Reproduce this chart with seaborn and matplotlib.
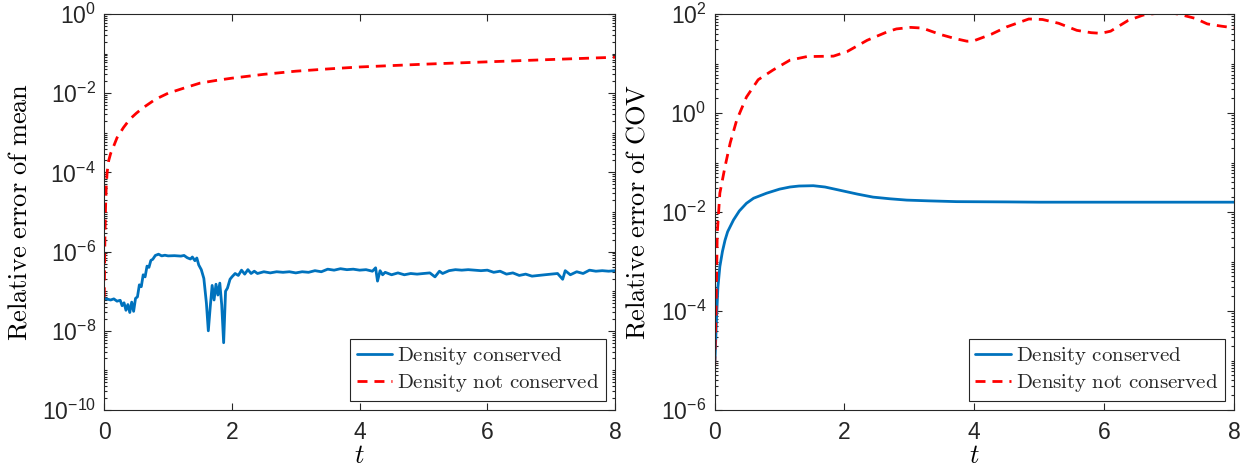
import numpy as np
import pandas as pd
import seaborn as sns
import matplotlib.pyplot as plt
from matplotlib import ticker
from matplotlib.font_manager import FontProperties

# ---- data ----
mean_cons_t = [0.00, 0.05, 0.10, 0.15, 0.20, 0.25, 0.28, 0.31, 0.34, 0.37,
               0.40, 0.43, 0.46, 0.49, 0.52, 0.55, 0.58, 0.61, 0.64, 0.67,
               0.70, 0.73, 0.76, 0.80, 0.85, 0.90, 0.95, 1.00, 1.10, 1.20,
               1.25, 1.30, 1.35, 1.38, 1.42, 1.45, 1.48, 1.52, 1.56, 1.60,
               1.63, 1.66, 1.69, 1.72, 1.75, 1.78, 1.81, 1.84, 1.87, 1.90,
               1.93, 1.97, 2.00, 2.05, 2.10, 2.15, 2.20, 2.25, 2.30, 2.35,
               2.40, 2.50, 2.60, 2.70, 2.80, 2.90, 3.00, 3.10, 3.20, 3.30,
               3.40, 3.50, 3.60, 3.70, 3.80, 3.90, 4.00, 4.10, 4.20, 4.25,
               4.28, 4.32, 4.36, 4.40, 4.50, 4.60, 4.70, 4.80, 4.90, 5.00,
               5.10, 5.18, 5.25, 5.30, 5.40, 5.50, 5.60, 5.70, 5.80, 5.90,
               6.00, 6.10, 6.20, 6.30, 6.40, 6.50, 6.60, 6.70, 6.80, 6.90,
               7.00, 7.10, 7.18, 7.22, 7.30, 7.40, 7.50, 7.60, 7.70, 7.80,
               7.90, 8.00]
mean_cons = [6.5e-8, 6.3e-8, 6.0e-8, 6.4e-8, 5.6e-8, 5.9e-8, 4.3e-8, 5.1e-8, 3.3e-8, 4.6e-8,
             2.9e-8, 5.3e-8, 3.1e-8, 6.6e-8, 7.2e-8, 1.45e-7, 1.3e-7, 2.6e-7, 2.3e-7, 4.3e-7,
             4.0e-7, 6.0e-7, 6.4e-7, 8.0e-7, 8.6e-7, 7.8e-7, 8.1e-7, 7.8e-7, 7.9e-7, 7.7e-7,
             8.0e-7, 7.0e-7, 6.5e-7, 7.3e-7, 5.9e-7, 6.9e-7, 4.6e-7, 3.5e-7, 2.1e-7, 5.0e-8,
             1.0e-8, 4.0e-8, 1.4e-7, 6.0e-8, 1.5e-7, 8.0e-8, 1.6e-7, 4.5e-8, 5.0e-9, 1.0e-7,
             1.2e-7, 2.0e-7, 2.3e-7, 2.8e-7, 2.5e-7, 3.4e-7, 2.7e-7, 3.5e-7, 2.8e-7, 3.2e-7,
             2.8e-7, 3.1e-7, 2.9e-7, 3.1e-7, 3.0e-7, 3.1e-7, 2.9e-7, 3.1e-7, 3.0e-7, 3.3e-7,
             3.1e-7, 3.6e-7, 3.4e-7, 3.7e-7, 3.5e-7, 3.6e-7, 3.4e-7, 3.5e-7, 3.2e-7, 3.9e-7,
             1.8e-7, 3.3e-7, 2.6e-7, 3.0e-7, 2.6e-7, 2.9e-7, 2.6e-7, 2.8e-7, 2.7e-7, 2.8e-7,
             2.9e-7, 2.3e-7, 3.2e-7, 2.8e-7, 3.3e-7, 3.5e-7, 3.4e-7, 3.5e-7, 3.4e-7, 3.3e-7,
             3.4e-7, 3.0e-7, 3.2e-7, 2.7e-7, 2.9e-7, 2.5e-7, 2.7e-7, 2.4e-7, 2.5e-7, 2.6e-7,
             2.7e-7, 2.8e-7, 2.0e-7, 3.3e-7, 2.6e-7, 3.1e-7, 2.8e-7, 3.4e-7, 3.2e-7, 3.3e-7,
             3.2e-7, 3.3e-7]

mean_noncons_t = [0.00, 0.01, 0.02, 0.03, 0.045, 0.07, 0.10, 0.15, 0.20, 0.30, 0.40, 0.50,
                  0.60, 0.80, 1.00, 1.25, 1.50, 1.75, 2.00, 2.50, 3.00, 3.50, 4.00,
                  5.00, 6.00, 7.00, 8.00]
mean_noncons = [7e-8, 2e-6, 1.2e-5, 4e-5, 1e-4, 2e-4, 3e-4, 4.7e-4, 7.5e-4, 1.35e-3, 2.2e-3, 3.1e-3,
                4.2e-3, 7e-3, 1.0e-2, 1.35e-2, 1.8e-2, 2.1e-2, 2.4e-2, 3.0e-2, 3.6e-2, 4.1e-2, 4.6e-2,
                5.4e-2, 6.2e-2, 7.1e-2, 8.1e-2]

cov_cons_t = [0.00, 0.005, 0.03, 0.05, 0.08, 0.12, 0.16, 0.20, 0.29, 0.38, 0.49, 0.60,
              0.80, 1.00, 1.16, 1.30, 1.52, 1.70, 1.93, 2.20, 2.44, 2.70, 2.96, 3.30,
              3.73, 4.50, 5.00, 6.00, 7.00, 8.00]
cov_cons = [9e-6, 1e-5, 7.8e-5, 3e-4, 7.9e-4, 1.6e-3, 2.7e-3, 4e-3, 6.9e-3, 1.05e-2, 1.5e-2, 1.9e-2,
            2.4e-2, 2.9e-2, 3.2e-2, 3.35e-2, 3.4e-2, 3.2e-2, 2.75e-2, 2.3e-2, 2.0e-2, 1.85e-2, 1.74e-2, 1.68e-2,
            1.62e-2, 1.6e-2, 1.58e-2, 1.58e-2, 1.58e-2, 1.58e-2]

cov_noncons_t = [0.00, 0.02, 0.04, 0.08, 0.16, 0.24, 0.34, 0.49, 0.67, 0.90, 1.16, 1.42,
                 1.83, 2.04, 2.35, 2.66, 2.80, 3.02, 3.20, 3.47, 3.70, 3.89, 4.00, 4.26,
                 4.50, 4.84, 5.05, 5.30, 5.58, 5.80, 5.95, 6.10, 6.37, 6.60, 6.90, 7.00,
                 7.17, 7.40, 7.59, 7.80, 8.00]
cov_noncons = [7.6e-6, 7.8e-5, 3.7e-3, 2.4e-2, 8.3e-2, 0.25, 0.72, 2.1, 4.7, 7.4, 11.7, 13.8,
               14.1, 17.4, 29.5, 43.7, 50, 53.7, 52, 38.9, 32, 28.2, 29, 38.9,
               55, 79.4, 77.6, 65, 46.8, 42, 40.7, 45, 74.1, 95, 107, 108,
               97.7, 82, 63.1, 57, 52.5]

labels = ["Density conserved", "Density not conserved"]
ylabels = ["Relative error of mean", "Relative error of COV"]
mean_yticks = [1e-10, 1e-8, 1e-6, 1e-4, 1e-2, 1e0]
cov_yticks = [1e-6, 1e-4, 1e-2, 1e0, 1e2]

sns.set_style("ticks")
plt.rcParams['font.family'] = ['Liberation Sans', 'DejaVu Sans']
plt.rcParams['mathtext.default'] = 'regular'

fig = plt.figure(figsize=(12.47, 4.69), dpi=100)
ax1 = fig.add_axes([0.0836, 0.1258, 0.4096, 0.8443])
ax2 = fig.add_axes([0.5731, 0.1258, 0.4164, 0.8443])


def to_long(t1, v1, t2, v2):
    d1 = pd.DataFrame({"t": t1, "err": v1, "case": labels[0]})
    d2 = pd.DataFrame({"t": t2, "err": v2, "case": labels[1]})
    return pd.concat([d1, d2], ignore_index=True)


panels = [
    (ax1, to_long(mean_cons_t, mean_cons, mean_noncons_t, mean_noncons), mean_yticks, ylabels[0], -0.142),
    (ax2, to_long(cov_cons_t, cov_cons, cov_noncons_t, cov_noncons), cov_yticks, ylabels[1], -0.125),
]

palette = {labels[0]: "#0072BD", labels[1]: "#FF0000"}
dashes = {labels[0]: "", labels[1]: (3.6, 2.5)}
leg_font = FontProperties(size=15, math_fontfamily='cm')

for ax, df, yt, ylab, lx in panels:
    sns.lineplot(data=df, x="t", y="err", hue="case", style="case", palette=palette,
                 dashes=dashes, estimator=None, linewidth=2, ax=ax, legend=False)
    ax.set_yscale("log")
    ax.set_xlim(0, 8)
    ax.set_ylim(yt[0], yt[-1])
    ax.set_xticks([0, 2, 4, 6, 8])
    ax.set_yticks(yt)
    ax.set_yticklabels([r'$10^{%d}$' % round(np.log10(v)) for v in yt])
    ax.yaxis.set_minor_locator(ticker.LogLocator(base=10, subs=np.arange(1, 10), numticks=100))
    ax.yaxis.set_minor_formatter(ticker.NullFormatter())
    ax.tick_params(which='both', direction='in', top=True, right=True, colors='#262626',
                   labelsize=16.5, width=0.8)
    ax.tick_params(which='major', length=5)
    ax.tick_params(which='minor', length=2.5)
    ax.tick_params(axis='x', which='major', pad=8)
    ax.tick_params(axis='y', which='major', pad=6)
    for s in ax.spines.values():
        s.set_color('#262626')
        s.set_linewidth(0.8)
    ax.set_ylabel(r'$\mathrm{%s}$' % ylab.replace(' ', r'\ '), math_fontfamily='cm', fontsize=19, color='black')
    ax.set_xlabel(r'$\mathit{t}$', math_fontfamily='cm', fontsize=19, color='black')
    ax.yaxis.set_label_coords(lx, 0.5)
    ax.xaxis.set_label_coords(0.5, -0.085)
    leg = ax.legend(ax.lines[:2], [r'$\mathrm{%s}$' % l.replace(' ', r'\ ') for l in labels],
                    loc='lower right', prop=leg_font, frameon=True, fancybox=False,
                    framealpha=1, edgecolor='#262626', handlelength=1.7, handletextpad=0.25,
                    borderpad=0.3, labelspacing=0.25, borderaxespad=0.45)
    leg.get_frame().set_linewidth(0.8)

fig.savefig("out.png", dpi=100)
